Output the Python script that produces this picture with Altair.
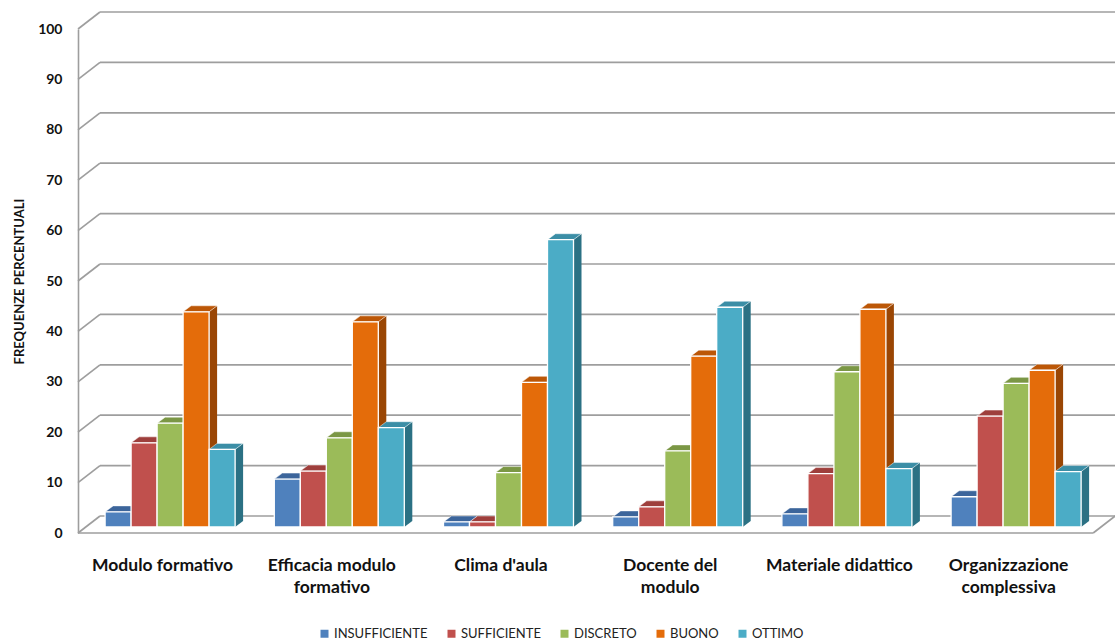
import altair as alt
import pandas as pd

# ---- data -------------------------------------------------------------
categories = [
    "Modulo formativo",
    "Efficacia modulo formativo",
    "Clima d'aula",
    "Docente del modulo",
    "Materiale didattico",
    "Organizzazione complessiva",
]
category_labels = [
    "Modulo formativo",
    "Efficacia modulo\nformativo",
    "Clima d'aula",
    "Docente del\nmodulo",
    "Materiale didattico",
    "Organizzazione\ncomplessiva",
]
series = ["INSUFFICIENTE", "SUFFICIENTE", "DISCRETO", "BUONO", "OTTIMO"]

insufficiente = [3.0, 9.5, 1.0, 2.0, 2.6, 6.0]
sufficiente = [16.7, 11.1, 1.0, 4.0, 10.6, 22.0]
discreto = [20.6, 17.7, 10.8, 15.1, 30.8, 28.5]
buono = [42.7, 40.7, 28.7, 33.9, 43.2, 31.1]
ottimo = [15.4, 19.7, 57.0, 43.6, 11.6, 11.0]

y_ticks = [0, 10, 20, 30, 40, 50, 60, 70, 80, 90, 100]

values = {
    "INSUFFICIENTE": insufficiente,
    "SUFFICIENTE": sufficiente,
    "DISCRETO": discreto,
    "BUONO": buono,
    "OTTIMO": ottimo,
}

# ---- styling ----------------------------------------------------------
FRONT = ["#4F81BD", "#C0504D", "#9BBB59", "#E46C0A", "#4BACC6"]
TOP = ["#3C659B", "#9E3F3C", "#7B9745", "#BC5707", "#3B8EA6"]
SIDE = ["#2E5079", "#7E302E", "#5F7832", "#9A4604", "#2B7184"]
GRID = "#9E9E9E"
FONT = "Lato"

# ---- layout (pixels) --------------------------------------------------
W, H = 1037, 504          # plot area: front plane of the 3D box
PAD_L, PAD_T = 78, 29
CAT_PX = 169.2            # width of one category on the front plane
X_MAX = W / CAT_PX
PX_X = CAT_PX
PX_Y = H / 100.0


def ux(px):
    return px / PX_X


def uy(px):
    return px / PX_Y


WALL_DX, WALL_DY = ux(22), uy(17)     # depth of the box (front -> back wall)
PLANE_DX, PLANE_DY = ux(7.5), uy(6)   # bars sit a little behind the front
DEPTH_DX, DEPTH_DY = ux(8), uy(6)     # depth of each bar
BAR_W = ux(26)
N = len(categories)

# ---- geometry tables --------------------------------------------------
fronts, sides, tops = [], [], []
for i, cat in enumerate(categories):
    for j, s in enumerate(series):
        v = values[s][i]
        left = i + 0.5 + (j - len(series) / 2) * BAR_W + PLANE_DX
        right = left + BAR_W
        base = PLANE_DY
        top = v + PLANE_DY
        bid = f"{i}-{j}"
        fronts.append(dict(series=s, x=left, x2=right, y=base, y2=top))
        sides.append(dict(bid=bid, series=s, x=right, y=top, y2=base))
        sides.append(dict(bid=bid, series=s, x=right + DEPTH_DX,
                          y=top + DEPTH_DY, y2=base + DEPTH_DY))
        tops.append(dict(bid=bid, series=s, y=top, x=left, x2=right))
        tops.append(dict(bid=bid, series=s, y=top + DEPTH_DY,
                         x=left + DEPTH_DX, x2=right + DEPTH_DX))

grid = []
for t in y_ticks:
    grid.append(dict(x=0, y=t, x2=WALL_DX, y2=t + WALL_DY))
    grid.append(dict(x=WALL_DX, y=t + WALL_DY, x2=X_MAX, y2=t + WALL_DY))
# floor outline: front edge and right edge
grid.append(dict(x=0, y=0, x2=N, y2=0))
grid.append(dict(x=N, y=0, x2=N + WALL_DX, y2=WALL_DY))

labels = pd.DataFrame(dict(x=[i + 0.5 for i in range(N)], label=category_labels))

front_df = pd.DataFrame(fronts)
side_df = pd.DataFrame(sides)
top_df = pd.DataFrame(tops)
grid_df = pd.DataFrame(grid)

# ---- shared scales / axis --------------------------------------------
XS = alt.Scale(domain=[0, X_MAX], nice=False, zero=False)
YS = alt.Scale(domain=[0, 100], nice=False, zero=False)
YAX = alt.Axis(
    values=y_ticks, grid=False, ticks=False,
    domainColor=GRID, domainWidth=1.6,
    labelFont=FONT, labelFontSize=14, labelFontWeight="bold",
    labelColor="#111111", labelPadding=16,
    title="FREQUENZE PERCENTUALI",
    titleFont=FONT, titleFontSize=13, titleFontWeight="bold",
    titleColor="#111111", titleAngle=270,
    titleX=-59, titleY=H / 2, titleAlign="center", titleBaseline="middle",
)


def X(f):
    return alt.X(f, type="quantitative", scale=XS, axis=None, stack=None)


def Y(f):
    return alt.Y(f, type="quantitative", scale=YS, axis=YAX, stack=None)


grid_layer = alt.Chart(grid_df).mark_rule(color=GRID, strokeWidth=1.7).encode(
    x=X("x"), x2="x2", y=Y("y"), y2="y2"
)

side_layer = alt.Chart(side_df).mark_area(orient="vertical").encode(
    x=X("x"), y=Y("y"), y2="y2",
    detail="bid:N",
    color=alt.Color("series:N", scale=alt.Scale(domain=series, range=SIDE), legend=None),
)

top_layer = alt.Chart(top_df).mark_area(
    orient="horizontal", stroke="white", strokeWidth=0.8, strokeOpacity=0.6
).encode(
    y=Y("y"), x=X("x"), x2="x2",
    detail="bid:N",
    color=alt.Color("series:N", scale=alt.Scale(domain=series, range=TOP), legend=None),
)

front_layer = alt.Chart(front_df).mark_rect(stroke="white", strokeWidth=1.3).encode(
    x=X("x"), x2="x2", y=Y("y"), y2="y2",
    color=alt.Color(
        "series:N",
        scale=alt.Scale(domain=series, range=FRONT),
        legend=alt.Legend(
            title=None, orient="none", legendX=240, legendY=598,
            direction="horizontal", columns=len(series),
            symbolType="square", symbolSize=64, symbolStrokeWidth=0,
            labelFont=FONT, labelFontSize=13, labelColor="#222222",
            labelOffset=3, columnPadding=17,
        ),
    ),
)

label_layer = alt.Chart(labels).mark_text(
    font=FONT, fontSize=17.5, fontWeight="bold", color="#111111",
    align="center", baseline="alphabetic", lineBreak="\n", lineHeight=22,
).encode(x=X("x"), y=alt.value(H + 38), text="label:N")

chart = (
    alt.layer(grid_layer, side_layer, top_layer, front_layer, label_layer)
    .resolve_scale(color="independent")
    .properties(
        width=W, height=H,
        autosize=alt.AutoSizeParams(type="none"),
        padding={"left": PAD_L, "top": PAD_T, "right": 0, "bottom": 642 - PAD_T - H},
    )
    .configure_view(stroke=None)
)

chart.save("out.html", embed_options={"renderer": "svg", "actions": False})
